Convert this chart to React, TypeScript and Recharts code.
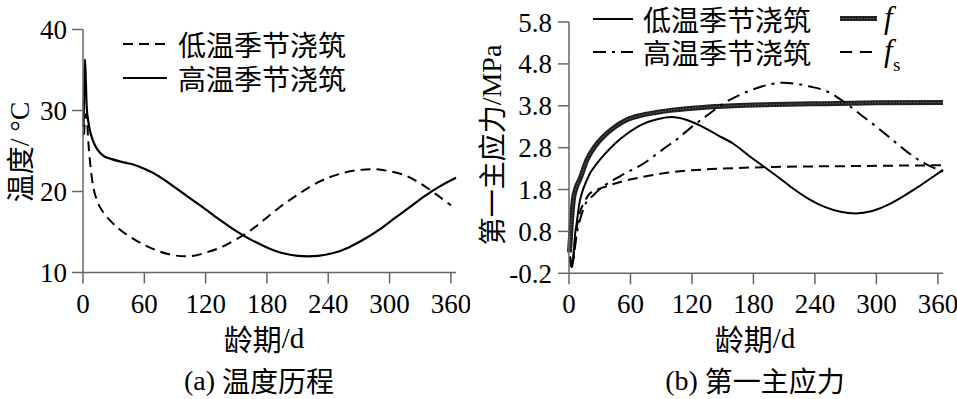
import React from "react";
import { LineChart, Line, XAxis, YAxis } from "recharts";

// ---------- data ----------
const dayTicks = [0, 60, 120, 180, 240, 300, 360];
const tempTicks = [10, 20, 30, 40];
const stressTicks = [-0.2, 0.8, 1.8, 2.8, 3.8, 4.8, 5.8];

// (a) temperature history
const lowTempDays = [1, 2.5, 3.5, 5, 7, 10, 14, 20, 26, 35, 45, 60, 75, 90, 100, 110, 120, 135, 150, 165, 180, 195, 210, 225, 240, 255, 270, 285, 300, 315, 330, 345, 360];
const lowTempValues = [27, 29.5, 29.5, 26.5, 23.5, 20.6, 18.8, 17.4, 16.5, 15.4, 14.5, 13.4, 12.6, 12.1, 12.0, 12.1, 12.45, 13.1, 14.1, 15.3, 16.8, 18.3, 19.6, 20.8, 21.7, 22.3, 22.65, 22.75, 22.5, 22.0, 21.0, 19.7, 18.3];

const highTempDays = [0.5, 1.2, 2, 2.8, 3.6, 5, 7, 10, 14, 20, 28, 40, 50, 60, 70, 80, 90, 100, 110, 120, 135, 150, 165, 180, 195, 210, 220, 230, 245, 260, 275, 290, 305, 320, 335, 350, 365];
const highTempValues = [28, 33, 36.3, 33.5, 30.5, 28.8, 27.4, 26.2, 25.2, 24.4, 24.0, 23.6, 23.3, 22.8, 22.2, 21.4, 20.5, 19.6, 18.7, 17.8, 16.4, 15.1, 14.0, 13.1, 12.4, 12.05, 12.0, 12.05, 12.4, 13.1, 14.1, 15.3, 16.7, 18.1, 19.5, 20.7, 21.7];

// (b) first principal stress
const lowStressDays = [1, 2.5, 4, 6, 7.5, 10, 13, 17, 20.5, 25, 34, 45, 56, 70, 85, 100, 115, 130, 145, 160, 175, 190, 205, 220, 235, 250, 265, 280, 295, 310, 325, 340, 355, 365];
const lowStressValues = [0.2, -0.05, 0.1, 0.75, 1.0, 1.45, 1.75, 2.0, 2.19, 2.35, 2.62, 2.9, 3.12, 3.34, 3.47, 3.53, 3.46, 3.3, 3.1, 2.9, 2.62, 2.35, 2.08, 1.8, 1.56, 1.38, 1.27, 1.23, 1.28, 1.42, 1.62, 1.85, 2.1, 2.27];

const highStressDays = [1, 2.5, 4, 6, 8, 10.7, 15, 24, 33.5, 50, 72.6, 95, 108, 118, 131, 154, 167, 183, 209, 235, 252, 268, 285, 300, 315, 330, 345, 355, 365];
const highStressValues = [0.2, -0.05, 0.05, 0.45, 0.8, 1.07, 1.4, 1.67, 1.87, 2.12, 2.42, 2.82, 3.05, 3.26, 3.5, 3.9, 4.06, 4.22, 4.35, 4.26, 4.14, 3.9, 3.58, 3.3, 3.0, 2.7, 2.45, 2.33, 2.23];

const fDays = [0.5, 2, 4.2, 7, 10.7, 17.3, 25, 33.5, 45, 56, 70, 85, 99, 130, 160, 200, 250, 300, 365];
const fValues = [0.3, 0.9, 1.55, 1.85, 2.05, 2.5, 2.82, 3.06, 3.3, 3.46, 3.57, 3.64, 3.69, 3.76, 3.8, 3.83, 3.85, 3.87, 3.88];

const fsDays = [1, 2.5, 4, 6, 10, 15, 20.5, 33.5, 50, 72, 90, 120, 150, 200, 275, 365];
const fsValues = [0.2, -0.05, 0.15, 0.6, 1.2, 1.5, 1.71, 1.85, 1.98, 2.1, 2.18, 2.26, 2.3, 2.34, 2.36, 2.38];

const zip = (days: number[], vals: number[]) => days.map((d, i) => ({ d, v: vals[i] }));

const lowTemp = zip(lowTempDays, lowTempValues);
const highTemp = zip(highTempDays, highTempValues);
const lowStress = zip(lowStressDays, lowStressValues);
const highStress = zip(highStressDays, highStressValues);
const fData = zip(fDays, fValues);
const fsData = zip(fsDays, fsValues);

// ---------- styles ----------
const SERIF = "'Liberation Serif'";
const CJK = "'Noto Sans CJK SC'";
const AXIS = "#666";
const DASH = "10 6";
const DASHDOT = "13 6 3 6";

const makeTick = (fmt: (v: number) => string, axis: "x" | "y") => (props: any) => {
  const { x, y, payload } = props;
  if (axis === "x") {
    return (
      <text x={x} y={y} dy="0.71em" textAnchor="middle" fill="#000" fontSize={27} style={{ fontFamily: SERIF }}>
        {fmt(payload.value)}
      </text>
    );
  }
  return (
    <text x={x} y={y} dy="0.355em" textAnchor="end" fill="#000" fontSize={27} style={{ fontFamily: SERIF }}>
      {fmt(payload.value)}
    </text>
  );
};

const intFmt = (v: number) => String(v);
const decFmt = (v: number) => v.toFixed(1);

// mixed-script text: Latin runs in serif, CJK runs in Noto Sans CJK
const Mixed = ({ parts }: { parts: [string, boolean][] }) => (
  <>
    {parts.map(([t, cjk], i) => (
      <tspan key={i} style={{ fontFamily: cjk ? CJK : SERIF }}>{t}</tspan>
    ))}
  </>
);

export default function App() {
  return (
    <div style={{ position: "absolute", left: 0, top: 0, width: 957, height: 399, background: "#fff", overflow: "hidden" }}>
      {/* (a) temperature */}
      <div style={{ position: "absolute", left: 0, top: 0 }}>
        <LineChart width={470} height={399} margin={{ top: 29.5, right: 14, bottom: 86.5, left: 0 }}>
          <XAxis type="number" dataKey="d" domain={[0, 365]} ticks={dayTicks} allowDuplicatedCategory={false}
            height={40} tickSize={11} tickMargin={10} tick={makeTick(intFmt, "x")}
            axisLine={{ stroke: AXIS, strokeWidth: 1.5 }} tickLine={{ stroke: AXIS, strokeWidth: 1.5 }} interval={0} />
          <YAxis type="number" domain={[10, 40]} ticks={tempTicks} width={83} tickSize={11} tickMargin={5}
            tick={makeTick(intFmt, "y")} axisLine={{ stroke: AXIS, strokeWidth: 1.5 }} tickLine={{ stroke: AXIS, strokeWidth: 1.5 }} interval={0} />
          <Line data={lowTemp} dataKey="v" type="monotone" stroke="#000" strokeWidth={2} strokeDasharray={DASH} dot={false} isAnimationActive={false} />
          <Line data={highTemp} dataKey="v" type="monotone" stroke="#000" strokeWidth={2.2} dot={false} isAnimationActive={false} />
        </LineChart>
      </div>

      {/* (b) stress */}
      <div style={{ position: "absolute", left: 470, top: 0 }}>
        <LineChart width={487} height={399} margin={{ top: 22, right: 14, bottom: 85.7, left: 0 }}>
          <XAxis type="number" dataKey="d" domain={[0, 365]} ticks={dayTicks} allowDuplicatedCategory={false}
            height={40} tickSize={11} tickMargin={10} tick={makeTick(intFmt, "x")}
            axisLine={{ stroke: AXIS, strokeWidth: 1.5 }} tickLine={{ stroke: AXIS, strokeWidth: 1.5 }} interval={0} />
          <YAxis type="number" domain={[-0.2, 5.8]} ticks={stressTicks} width={99} tickSize={11} tickMargin={6}
            tick={makeTick(decFmt, "y")} axisLine={{ stroke: AXIS, strokeWidth: 1.5 }} tickLine={{ stroke: AXIS, strokeWidth: 1.5 }} interval={0} />
          <Line data={fData} dataKey="v" type="monotone" stroke="#222" strokeWidth={5} dot={false} isAnimationActive={false} />
          <Line data={fData} dataKey="v" type="monotone" stroke="#777" strokeWidth={1} strokeDasharray="1 2" dot={false} isAnimationActive={false} />
          <Line data={fsData} dataKey="v" type="monotone" stroke="#000" strokeWidth={2} strokeDasharray={DASH} dot={false} isAnimationActive={false} />
          <Line data={highStress} dataKey="v" type="monotone" stroke="#000" strokeWidth={2} strokeDasharray={DASHDOT} dot={false} isAnimationActive={false} />
          <Line data={lowStress} dataKey="v" type="monotone" stroke="#000" strokeWidth={2} dot={false} isAnimationActive={false} />
        </LineChart>
      </div>

      {/* text overlay: titles, captions, legends */}
      <svg width={957} height={399} style={{ position: "absolute", left: 0, top: 0, pointerEvents: "none" }}>
        <g fill="#000">
          {/* axis titles */}
          <text x={19} y={152} fontSize={28} textAnchor="middle" dominantBaseline="central" transform="rotate(-90 19 152)">
            <Mixed parts={[["温度", true], ["/ °C", false]]} />
          </text>
          <text x={491} y={145} fontSize={28} textAnchor="middle" dominantBaseline="central" transform="rotate(-90 491 145)">
            <Mixed parts={[["第一主应力", true], ["/MPa", false]]} />
          </text>
          <text x={264} y={338} fontSize={29} textAnchor="middle" dominantBaseline="central">
            <Mixed parts={[["龄期", true], ["/d", false]]} />
          </text>
          <text x={755} y={338} fontSize={29} textAnchor="middle" dominantBaseline="central">
            <Mixed parts={[["龄期", true], ["/d", false]]} />
          </text>
          <text x={259} y={380} fontSize={28} textAnchor="middle" dominantBaseline="central">
            <Mixed parts={[["(a) ", false], ["温度历程", true]]} />
          </text>
          <text x={755} y={380} fontSize={28} textAnchor="middle" dominantBaseline="central">
            <Mixed parts={[["(b) ", false], ["第一主应力", true]]} />
          </text>

          {/* legend (a) */}
          <line x1={123} y1={44} x2={167} y2={44} stroke="#000" strokeWidth={2} strokeDasharray={DASH} />
          <text x={178} y={44} fontSize={28} dominantBaseline="central" style={{ fontFamily: CJK }}>低温季节浇筑</text>
          <line x1={123} y1={78} x2={167} y2={78} stroke="#000" strokeWidth={2.2} />
          <text x={178} y={78} fontSize={28} dominantBaseline="central" style={{ fontFamily: CJK }}>高温季节浇筑</text>

          {/* legend (b) */}
          <line x1={593} y1={19} x2={633} y2={19} stroke="#000" strokeWidth={2} />
          <text x={643} y={19} fontSize={28} dominantBaseline="central" style={{ fontFamily: CJK }}>低温季节浇筑</text>
          <line x1={593} y1={52} x2={633} y2={52} stroke="#000" strokeWidth={2} strokeDasharray={DASHDOT} />
          <text x={643} y={52} fontSize={28} dominantBaseline="central" style={{ fontFamily: CJK }}>高温季节浇筑</text>
          <line x1={840} y1={18.5} x2={877} y2={18.5} stroke="#222" strokeWidth={5} />
          <line x1={840} y1={18.5} x2={877} y2={18.5} stroke="#777" strokeWidth={1} strokeDasharray="1 2" />
          <text x={884} y={28} fontSize={31} style={{ fontFamily: SERIF, fontStyle: "italic" }}>f</text>
          <line x1={840} y1={52} x2={877} y2={52} stroke="#000" strokeWidth={2} strokeDasharray="12 8" />
          <text x={884} y={61} fontSize={31} style={{ fontFamily: SERIF, fontStyle: "italic" }}>f</text>
          <text x={893} y={71} fontSize={19} style={{ fontFamily: SERIF }}>s</text>
        </g>
      </svg>
    </div>
  );
}
